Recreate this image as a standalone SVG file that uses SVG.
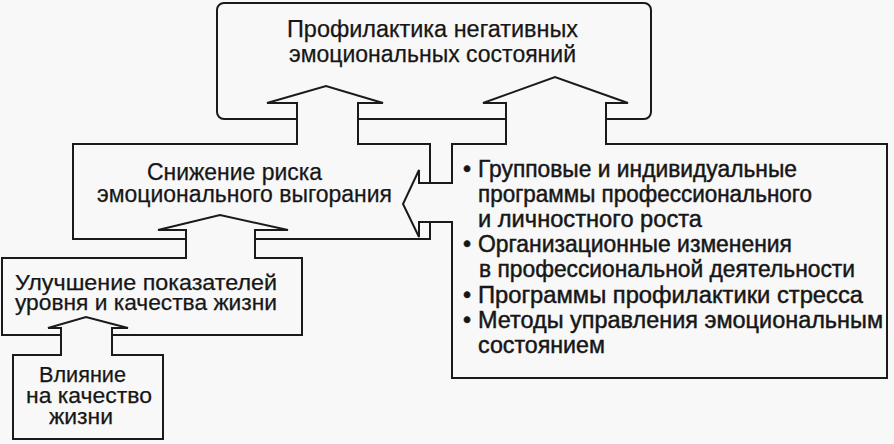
<svg xmlns="http://www.w3.org/2000/svg" width="894" height="444" viewBox="0 0 894 444">
<style>
.box{fill:#f8f8f8;stroke:#1a1a1a;stroke-width:2}
.t{font-family:"Liberation Sans",Arial,sans-serif;fill:#161616;font-size:23px;stroke:#161616;stroke-width:0.25}
.q{font-size:22px}
.s{font-size:22px}
.r{font-size:23px;stroke-width:0.45}
.af{fill:#f8f8f8;stroke:none}
.ao{fill:none;stroke:#1a1a1a;stroke-width:2;stroke-linejoin:miter}
</style>
<rect width="894" height="444" fill="#f8f8f8"/>
<g id="node-top">
<rect class="box" x="217" y="3" width="434" height="116" rx="7"/>
<text class="t" x="287" y="37" textLength="291" lengthAdjust="spacingAndGlyphs">Профилактика негативных</text>
<text class="t" x="289" y="62" textLength="287" lengthAdjust="spacingAndGlyphs">эмоциональных состояний</text>
</g>
<g id="node-burnout">
<rect class="box" x="73" y="144" width="357" height="95"/>
<text class="t" x="147" y="180" textLength="175" lengthAdjust="spacingAndGlyphs">Снижение риска</text>
<text class="t" x="97" y="202" textLength="295" lengthAdjust="spacingAndGlyphs">эмоционального выгорания</text>
</g>
<g id="node-measures">
<rect class="box" x="452" y="144" width="435" height="234"/>
<g class="t r">
<text x="463" y="176.5">•</text>
<text x="478" y="176.5" textLength="319" lengthAdjust="spacingAndGlyphs">Групповые и индивидуальные</text>
<text x="478" y="201.7" textLength="334" lengthAdjust="spacingAndGlyphs">программы профессионального</text>
<text x="478" y="226.9" textLength="224" lengthAdjust="spacingAndGlyphs">и личностного роста</text>
<text x="463" y="252">•</text>
<text x="478" y="252" textLength="314" lengthAdjust="spacingAndGlyphs">Организационные изменения</text>
<text x="479" y="277.3" textLength="376" lengthAdjust="spacingAndGlyphs">в профессиональной деятельности</text>
<text x="463" y="302.5">•</text>
<text x="478" y="302.5" textLength="385" lengthAdjust="spacingAndGlyphs">Программы профилактики стресса</text>
<text x="463" y="327.7">•</text>
<text x="478" y="327.7" textLength="405" lengthAdjust="spacingAndGlyphs">Методы управления эмоциональным</text>
<text x="478" y="353" textLength="127" lengthAdjust="spacingAndGlyphs">состоянием</text>
</g>
</g>
<g id="node-quality">
<rect class="box" x="2" y="258" width="300" height="77"/>
<text class="t q" x="15" y="290" textLength="262" lengthAdjust="spacingAndGlyphs">Улучшение показателей</text>
<text class="t q" x="15" y="310" textLength="262" lengthAdjust="spacingAndGlyphs">уровня и качества жизни</text>
</g>
<g id="node-influence">
<rect class="box" x="13" y="355" width="150" height="84"/>
<text class="t s" x="39" y="382" textLength="87" lengthAdjust="spacingAndGlyphs">Влияние</text>
<text class="t s" x="26" y="403" textLength="126" lengthAdjust="spacingAndGlyphs">на качество</text>
<text class="t s" x="49" y="424" textLength="64" lengthAdjust="spacingAndGlyphs">жизни</text>
</g>
<g id="connectors">
<polygon class="af" points="62,357 62,328 48,328 86,317 128,328 111,328 111,357"/>
<polyline class="ao" points="61,355 61,328 48,328 86,317 128,328 112,328 112,355"/>
<polygon class="af" points="187,260 187,230 158,230 220,215 288,230 254,230 254,260"/>
<polyline class="ao" points="186,258 186,230 158,230 220,215 288,230 255,230 255,258"/>
<polygon class="af" points="298,146 298,103 267,103 326,86 383,103 357,103 357,146"/>
<polyline class="ao" points="297,144 297,103 267,103 326,86 383,103 358,103 358,144"/>
<polygon class="af" points="507,146 507,103 483,103 555,77 628,103 605,103 605,146"/>
<polyline class="ao" points="506,144 506,103 483,103 555,77 628,103 606,103 606,144"/>
<polygon class="af" points="454,184 419,184 419,170 403,204 419,237 419,221 454,221"/>
<polyline class="ao" points="452,183 419,183 419,170 403,204 419,237 419,222 452,222"/>
</g>
</svg>
